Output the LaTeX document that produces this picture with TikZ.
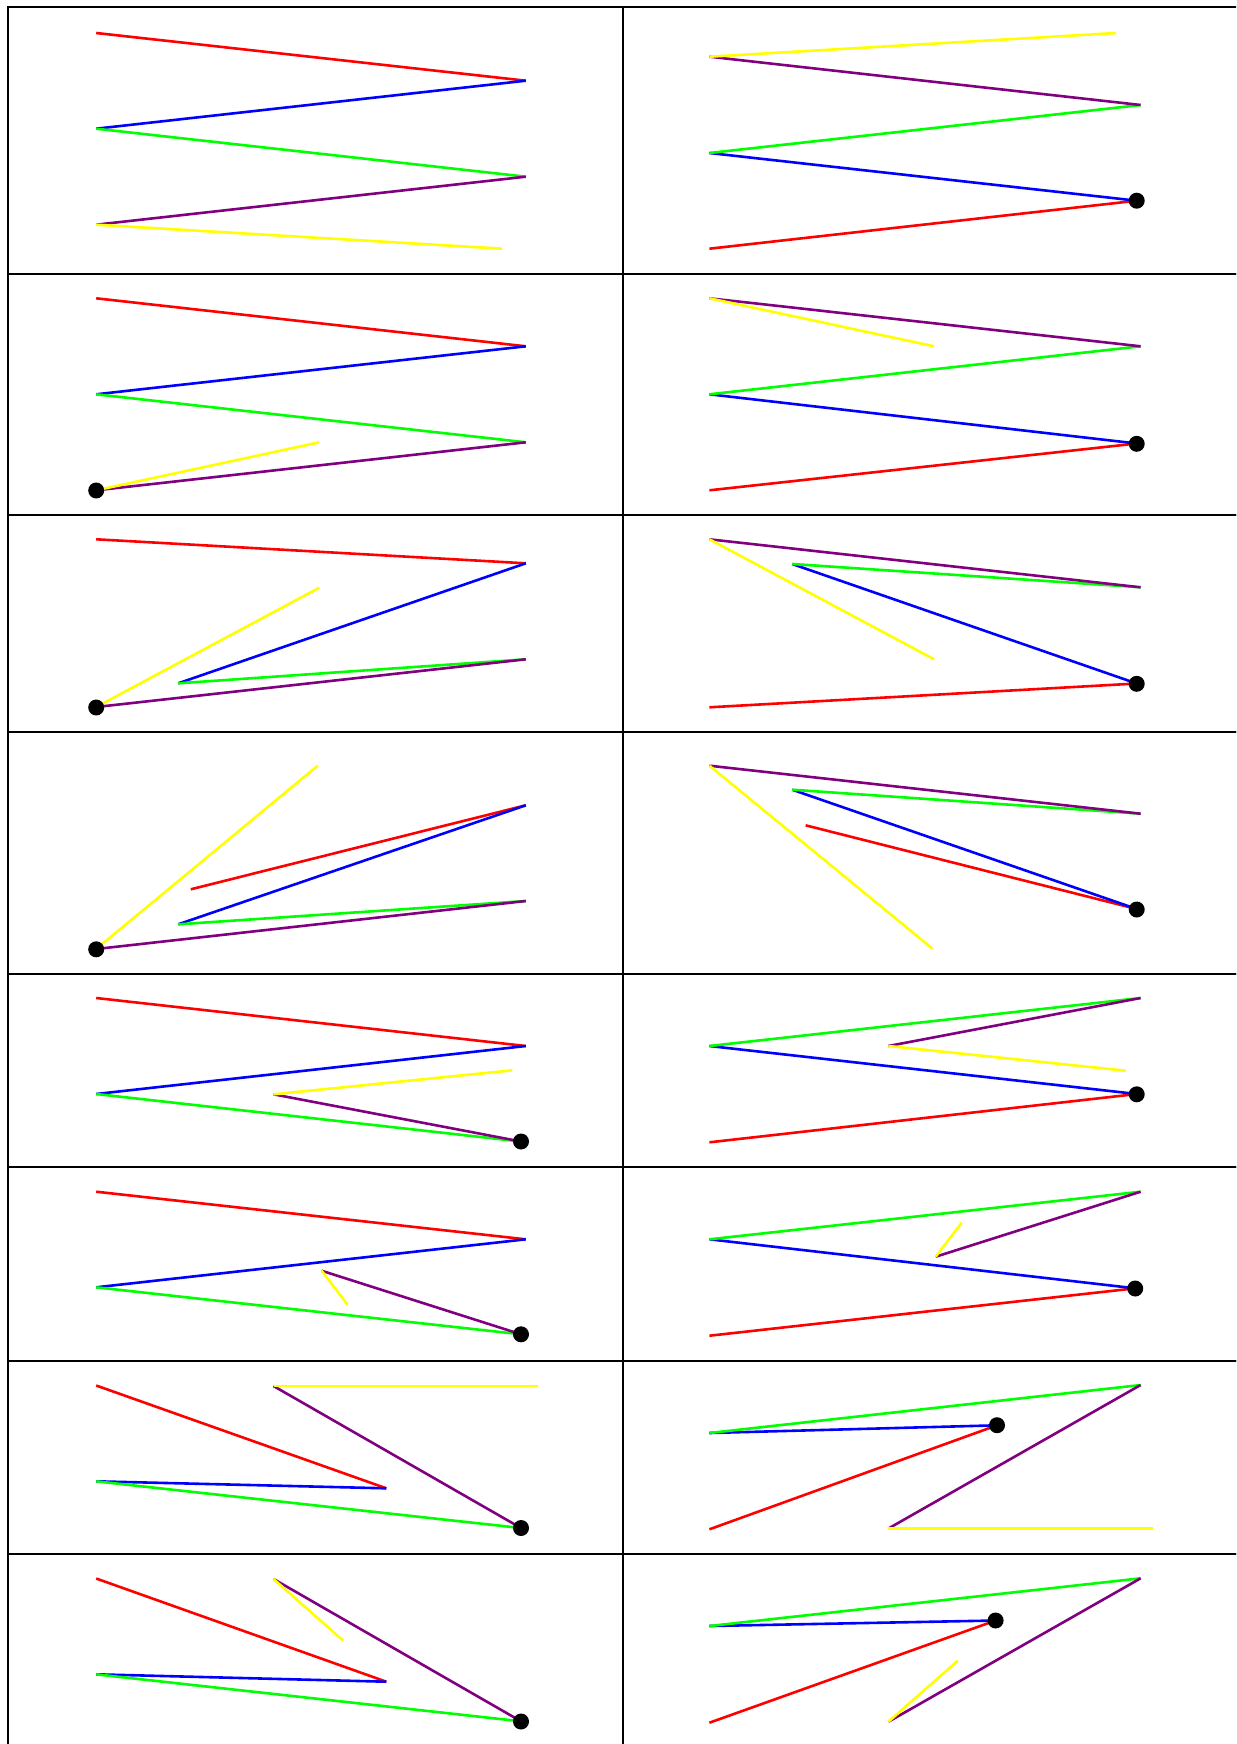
\documentclass[tikz,border=0pt]{standalone}
\definecolor{cR}{RGB}{255,0,0}
\definecolor{cB}{RGB}{0,0,255}
\definecolor{cG}{RGB}{0,255,0}
\definecolor{cP}{RGB}{128,0,128}
\definecolor{cY}{RGB}{255,255,0}
\begin{document}
\begin{tikzpicture}[x=0.5pt,y=-0.5pt,
  seg/.style={line width=1.3pt},
  frame/.style={line width=1pt,draw=black},
  jdot/.style={fill=black}]
\useasboundingbox (0,0) rectangle (1236,1744);
\fill[white] (0,0) rectangle (1236,1744);
\clip (0,0) rectangle (1236,1744);
% frames
\foreach \ya/\yb in {7.5/273.7, 273.7/515, 515/732, 732/974.3, 974.3/1166.7, 1166.7/1360.7, 1360.7/1553.9, 1553.9/1800}{
  \draw[frame] (7.9,\ya) rectangle (622.7,\yb);
  \draw[frame] (622.7,\ya) rectangle (1240,\yb);
}
% ---- panel 1L
\draw[seg,cR] (96.2,33) -- (525.8,80.7);
\draw[seg,cB] (525.8,80.7) -- (96.2,128.7);
\draw[seg,cG] (96.2,128.7) -- (525.8,176.7);
\draw[seg,cP] (525.8,176.7) -- (96.2,224.7);
\draw[seg,cY] (96.2,224.7) -- (502,248.7);
% ---- panel 1R
\draw[seg,cR] (1136.7,200.7) -- (709.4,248.7);
\draw[seg,cB] (709.4,153) -- (1136.7,200.7);
\draw[seg,cG] (1140.6,105) -- (709.4,153);
\draw[seg,cP] (709.4,56.7) -- (1140.6,105);
\draw[seg,cY] (1116.2,33) -- (709.4,56.7);
\fill[jdot] (1136.7,200.7) circle (4pt);
% ---- panel 2L
\draw[seg,cR] (96.2,298.3) -- (525.8,346.3);
\draw[seg,cB] (525.8,346.3) -- (96.2,394.3);
\draw[seg,cG] (96.2,394.3) -- (525.8,442.3);
\draw[seg,cP] (525.8,442.3) -- (96.2,490.3);
\draw[seg,cY] (96.2,490.3) -- (319.3,442.3);
\fill[jdot] (96.2,490.5) circle (4pt);
% ---- panel 2R
\draw[seg,cR] (1136.7,443.5) -- (709.4,490.3);
\draw[seg,cB] (709.4,394.3) -- (1136.7,443.5);
\draw[seg,cG] (1140.6,346.3) -- (709.4,394.3);
\draw[seg,cP] (709.4,298.3) -- (1140.6,346.3);
\draw[seg,cY] (709.4,298.3) -- (934.1,346.3);
\fill[jdot] (1136.7,443.8) circle (4pt);
% ---- panel 3L
\draw[seg,cR] (96.2,539.3) -- (525.8,563.3);
\draw[seg,cB] (525.8,563.3) -- (178.2,683.3);
\draw[seg,cG] (178.2,683.3) -- (525.8,659.3);
\draw[seg,cP] (525.8,659.3) -- (96.2,707);
\draw[seg,cY] (96.2,707) -- (319.3,587.7);
\fill[jdot] (96.2,707.5) circle (4pt);
% ---- panel 3R
\draw[seg,cR] (1136.7,683.5) -- (709.4,707.3);
\draw[seg,cB] (792.2,564) -- (1136.7,683.5);
\draw[seg,cG] (1140.6,587.3) -- (792.2,564);
\draw[seg,cP] (709.4,539.3) -- (1140.6,587.3);
\draw[seg,cY] (709.4,539.3) -- (934.1,659.3);
\fill[jdot] (1136.7,683.8) circle (4pt);
% ---- panel 4L
\draw[seg,cR] (190.8,889.3) -- (525.8,805.3);
\draw[seg,cB] (525.8,805.3) -- (178.2,924.3);
\draw[seg,cG] (178.2,924.3) -- (525.8,901);
\draw[seg,cP] (525.8,901) -- (96.2,949);
\draw[seg,cY] (96.2,949) -- (317.7,765.7);
\fill[jdot] (96.2,949.3) circle (4pt);
% ---- panel 4R
\draw[seg,cR] (805.6,825.3) -- (1136.7,909);
\draw[seg,cB] (792.2,789.7) -- (1136.7,909);
\draw[seg,cG] (1140.6,813.7) -- (792.2,789.7);
\draw[seg,cP] (709.4,765.7) -- (1140.6,813.7);
\draw[seg,cY] (709.4,765.7) -- (932.5,948.7);
\fill[jdot] (1136.7,909.5) circle (4pt);
% ---- panel 5L
\draw[seg,cR] (96.2,998) -- (525.8,1046);
\draw[seg,cB] (525.8,1046) -- (96.2,1094);
\draw[seg,cG] (96.2,1094) -- (521,1141.5);
\draw[seg,cP] (521,1141.5) -- (273.5,1094.3);
\draw[seg,cY] (273.5,1094.3) -- (512.4,1070.3);
\fill[jdot] (521,1141.5) circle (4pt);
% ---- panel 5R
\draw[seg,cR] (1136.7,1094) -- (709.4,1142.3);
\draw[seg,cB] (709.4,1046) -- (1136.7,1094);
\draw[seg,cG] (709.4,1046) -- (1140.6,998);
\draw[seg,cP] (1140.6,998) -- (888.4,1046);
\draw[seg,cY] (888.4,1046) -- (1125.7,1070.7);
\fill[jdot] (1136.7,1094.3) circle (4pt);
% ---- panel 6L
\draw[seg,cR] (96.2,1191.7) -- (525.8,1239.3);
\draw[seg,cB] (525.8,1239.3) -- (96.2,1287.3);
\draw[seg,cG] (96.2,1287.3) -- (521,1334.3);
\draw[seg,cP] (521,1334.3) -- (321.6,1270.7);
\draw[seg,cY] (321.6,1270.7) -- (347.6,1304.7);
\fill[jdot] (521,1334.3) circle (4pt);
% ---- panel 6R
\draw[seg,cR] (1135.2,1288.3) -- (709.4,1335.7);
\draw[seg,cB] (709.4,1239.3) -- (1135.2,1288.3);
\draw[seg,cG] (709.4,1239.3) -- (1140.6,1191.7);
\draw[seg,cP] (1140.6,1191.7) -- (935.7,1256.7);
\draw[seg,cY] (935.7,1256.7) -- (961.7,1222.7);
\fill[jdot] (1135.2,1288.5) circle (4pt);
% ---- panel 7L
\draw[seg,cR] (96.2,1385.5) -- (386.3,1488.3);
\draw[seg,cB] (386.3,1488.3) -- (96.2,1481.3);
\draw[seg,cG] (96.2,1481.3) -- (521,1528);
\draw[seg,cP] (521,1528) -- (273.5,1386);
\draw[seg,cY] (273.5,1386) -- (538.4,1386);
\fill[jdot] (521,1528) circle (4pt);
% ---- panel 7R
\draw[seg,cR] (997,1425.3) -- (709.4,1529.3);
\draw[seg,cB] (709.4,1433) -- (997,1425.3);
\draw[seg,cG] (709.4,1433) -- (1140.6,1385);
\draw[seg,cP] (1140.6,1385) -- (888.4,1528.5);
\draw[seg,cY] (888.4,1528.5) -- (1153.3,1528.5);
\fill[jdot] (997,1425.2) circle (4pt);
% ---- panel 8L
\draw[seg,cR] (96.2,1578.5) -- (386.3,1681.7);
\draw[seg,cB] (386.3,1681.7) -- (96.2,1674.3);
\draw[seg,cG] (96.2,1674.3) -- (521,1721.3);
\draw[seg,cP] (521,1721.3) -- (273.5,1579);
\draw[seg,cY] (273.5,1579) -- (343,1640.5);
\fill[jdot] (521,1721.5) circle (4pt);
% ---- panel 8R
\draw[seg,cR] (995.6,1620.5) -- (709.4,1722.7);
\draw[seg,cB] (709.4,1626) -- (995.6,1620.5);
\draw[seg,cG] (709.4,1626) -- (1140.6,1578.3);
\draw[seg,cP] (1140.6,1578.3) -- (888.4,1721.7);
\draw[seg,cY] (888.4,1721.7) -- (957.8,1660.7);
\fill[jdot] (995.6,1620.5) circle (4pt);
\end{tikzpicture}
\end{document}
